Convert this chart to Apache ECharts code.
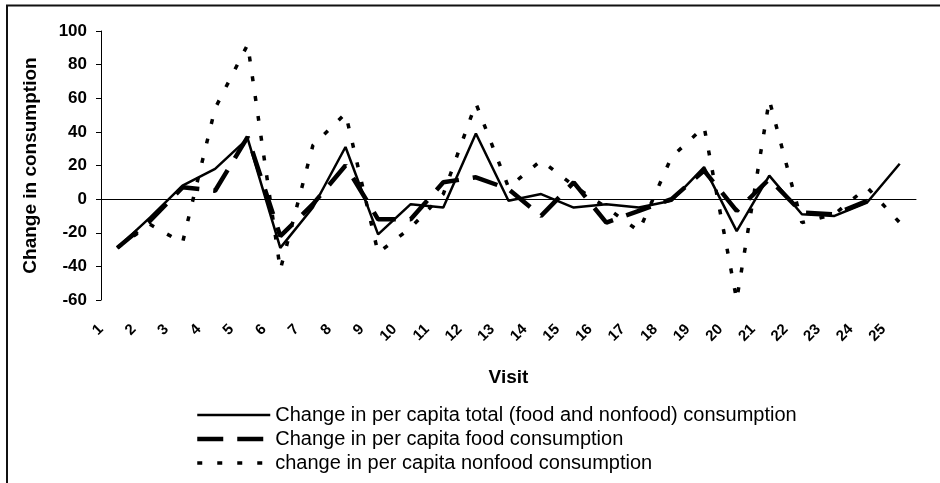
<!DOCTYPE html>
<html>
<head>
<meta charset="utf-8">
<script src="https://cdn.jsdelivr.net/npm/echarts@6/dist/echarts.min.js"></script>
<style>
html, body { margin: 0; padding: 0; background: #fff; }
#main { width: 940px; height: 483px; }
</style>
</head>
<body>
<div id="main"></div>
<script>
// visit numbers (x axis)
var visits = ['1','2','3','4','5','6','7','8','9','10','11','12','13','14','15','16','17','18','19','20','21','22','23','24','25'];

// change in per capita consumption
var totalChange = [-29, -11, 8, 18, 36, -29, -5, 31, -21, -3, -5, 39, -1, 3, -5, -3, -5, -1, 19, -19, 14, -9, -10, -2, 21];
var foodChange = [-29, -13, 7, 5, 37, -22, -3, 20, -12, -12, 10, 13, 6, -10, 10, -14, -7, 0, 17, -7, 12, -8, -9, -1, null];
var nonfoodChange = [-29, -15, -26, 54, 92, -42, 32, 51, -32, -17, 3, 57, 7, 23, 8, -5, -19, 25, 43, -60, 59, -14, -9, 7, -14];

var seriesNames = [
    'Change in per capita total (food and nonfood) consumption',
    'Change in per capita food consumption',
    'change in per capita nonfood consumption'
];

var myChart = echarts.init(document.getElementById('main'));

var font = 'Liberation Sans, Arial, sans-serif';

var option = {
    backgroundColor: '#fff',
    animation: false,
    graphic: [{
        type: 'polyline',
        shape: { points: [[7, 483], [7, 5.5], [940, 5.5]] },
        style: { stroke: '#111', lineWidth: 2, fill: null }
    }],
    grid: {
        left: 101,
        right: 24,
        top: 31,
        bottom: 183
    },
    legend: {
        orient: 'vertical',
        left: 190,
        top: 400,
        height: 90,
        itemWidth: 73,
        itemHeight: 14,
        itemGap: 4,
        itemStyle: { opacity: 0 },
        data: [
            { name: seriesNames[0], lineStyle: { width: 2.5 } },
            { name: seriesNames[1], lineStyle: { width: 4.5 } },
            { name: seriesNames[2], lineStyle: { width: 3.5 } }
        ],
        textStyle: { color: '#000', fontSize: 20, fontFamily: font }
    },
    xAxis: [{
        // line series axis, its line sits at zero
        type: 'category',
        data: visits,
        boundaryGap: true,
        axisLine: { onZero: true, lineStyle: { color: '#000', width: 1 } },
        axisTick: { show: false },
        axisLabel: { show: false },
        splitLine: { show: false }
    }, {
        // label axis, Excel puts the rotated labels on category borders
        type: 'value',
        min: 0,
        max: 25,
        interval: 1,
        position: 'bottom',
        axisLine: { show: false },
        axisTick: { show: false },
        splitLine: { show: false },
        axisLabel: {
            rotate: 45,
            margin: 27,
            color: '#000',
            fontSize: 15,
            fontWeight: 'bold',
            fontFamily: font,
            showMaxLabel: false,
            formatter: function (v) { return visits[v] || ''; }
        },
        name: 'Visit',
        nameLocation: 'middle',
        nameGap: 68,
        nameTextStyle: { color: '#000', fontSize: 19, fontWeight: 'bold', fontFamily: font }
    }],
    yAxis: {
        type: 'value',
        min: -60,
        max: 100,
        interval: 20,
        name: 'Change in consumption',
        nameLocation: 'middle',
        nameGap: 61,
        nameTextStyle: { color: '#000', fontSize: 19, fontWeight: 'bold', fontFamily: font },
        axisLine: { show: true, lineStyle: { color: '#000', width: 1 } },
        axisTick: { show: true, inside: false, length: 5, lineStyle: { color: '#000' } },
        axisLabel: { color: '#000', fontSize: 17, fontWeight: 'bold', fontFamily: font, margin: 14 },
        splitLine: { show: false }
    },
    series: [{
        name: seriesNames[0],
        type: 'line',
        data: totalChange,
        symbol: 'none',
        lineStyle: { color: '#000', width: 2.5, type: 'solid' },
        itemStyle: { color: '#000' },
        z: 4
    }, {
        name: seriesNames[1],
        type: 'line',
        data: foodChange,
        symbol: 'none',
        lineStyle: { color: '#000', width: 4.5, type: [26, 14] },
        itemStyle: { color: '#000' },
        z: 3
    }, {
        name: seriesNames[2],
        type: 'line',
        data: nonfoodChange,
        symbol: 'none',
        lineStyle: { color: '#000', width: 3.5, type: [5, 15] },
        itemStyle: { color: '#000' },
        z: 2
    }]
};

myChart.setOption(option);
</script>
</body>
</html>
